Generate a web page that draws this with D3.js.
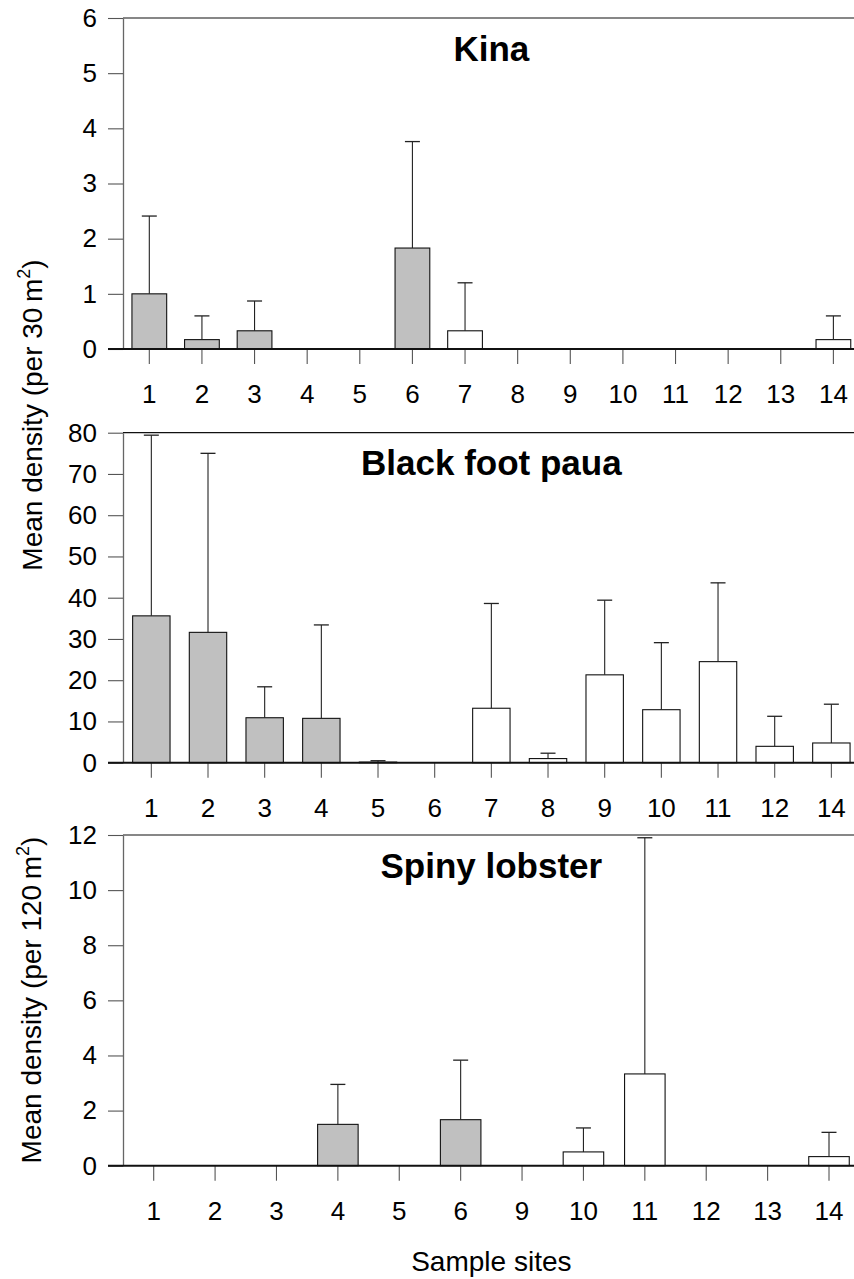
<!DOCTYPE html>
<meta charset="utf-8">
<head>
  <title>Mean density by sample site</title>
</head>

<style>
body {
  margin: 0;
  background: #fff;
}
svg text {
  font-family: "Liberation Sans", Arial, Helvetica, sans-serif;
  fill: #000;
}
</style>

<body>
  <div id="content">
    <svg width="854" height="1279"></svg>
  </div>

  <script src="https://cdnjs.cloudflare.com/ajax/libs/d3/7.8.5/d3.min.js"></script>

  <script>
// data (mean, and standard error above it)
var kinaSites = [1, 2, 3, 4, 5, 6, 7, 8, 9, 10, 11, 12, 13, 14];
var kinaMean  = [1.0, 0.17, 0.33, 0, 0, 1.83, 0.33, 0, 0, 0, 0, 0, 0, 0.17];
var kinaSE    = [1.41, 0.43, 0.54, 0, 0, 1.93, 0.87, 0, 0, 0, 0, 0, 0, 0.43];

var pauaSites = [1, 2, 3, 4, 5, 6, 7, 8, 9, 10, 11, 12, 14];
var pauaMean  = [35.6, 31.6, 10.9, 10.75, 0.15, 0, 13.2, 1.0, 21.3, 12.85, 24.5, 3.97, 4.78];
var pauaSE    = [43.8, 43.4, 7.5, 22.65, 0.33, 0, 25.4, 1.3, 18.1, 16.25, 19.1, 7.28, 9.4];

var lobsterSites = [1, 2, 3, 4, 5, 6, 9, 10, 11, 12, 13, 14];
var lobsterMean  = [0, 0, 0, 1.5, 0, 1.67, 0, 0.5, 3.33, 0, 0, 0.33];
var lobsterSE    = [0, 0, 0, 1.45, 0, 2.16, 0, 0.87, 8.57, 0, 0, 0.88];

// sites drawn with grey bars
var shadedSites = [1, 2, 3, 4, 5, 6];

var svg = d3.select('#content svg');

var left = 123, right = 859.7;

var panels = [
  {title: 'Kina', sites: kinaSites, mean: kinaMean, se: kinaSE, top: 18, bottom: 349, max: 6, step: 1},
  {title: 'Black foot paua', sites: pauaSites, mean: pauaMean, se: pauaSE, top: 432.7, bottom: 762.7, max: 80, step: 10},
  {title: 'Spiny lobster', sites: lobsterSites, mean: lobsterMean, se: lobsterSE, top: 835, bottom: 1165.7, max: 12, step: 2}
];

panels.forEach(function(p) {
  var x = d3.scaleBand()
    .domain(p.sites)
    .range([left, right])
    .paddingInner(0.34)
    .paddingOuter(0.17);

  var y = d3.scaleLinear()
    .domain([0, p.max])
    .range([p.bottom, p.top]);

  var g = svg.append('g');

  // top frame line
  g.append('line')
    .attr('x1', left).attr('x2', 854)
    .attr('y1', y(p.max)).attr('y2', y(p.max))
    .attr('stroke', '#111')
    .attr('stroke-width', 1.2);

  var rows = p.sites.map(function(s, i) {
    return {site: s, mean: p.mean[i], se: p.se[i]};
  });

  // bars
  g.selectAll('rect')
    .data(rows.filter(function(d) { return d.mean > 0; }))
    .enter().append('rect')
    .attr('x', function(d) { return x(d.site); })
    .attr('width', x.bandwidth())
    .attr('y', function(d) { return y(d.mean); })
    .attr('height', function(d) { return y(0) - y(d.mean); })
    .attr('fill', function(d) { return shadedSites.indexOf(d.site) >= 0 ? '#c0c0c0' : '#fff'; })
    .attr('stroke', '#111')
    .attr('stroke-width', 1.1);

  // error bars (upper only)
  var eb = g.selectAll('.err')
    .data(rows.filter(function(d) { return d.se > 0; }))
    .enter().append('g')
    .attr('class', 'err');

  eb.append('line')
    .attr('x1', function(d) { return x(d.site) + x.bandwidth() / 2; })
    .attr('x2', function(d) { return x(d.site) + x.bandwidth() / 2; })
    .attr('y1', function(d) { return y(d.mean); })
    .attr('y2', function(d) { return y(d.mean + d.se); })
    .attr('stroke', '#222')
    .attr('stroke-width', 1.1);

  eb.append('line')
    .attr('x1', function(d) { return x(d.site) + x.bandwidth() / 2 - 7.5; })
    .attr('x2', function(d) { return x(d.site) + x.bandwidth() / 2 + 7.5; })
    .attr('y1', function(d) { return y(d.mean + d.se); })
    .attr('y2', function(d) { return y(d.mean + d.se); })
    .attr('stroke', '#222')
    .attr('stroke-width', 1.3);

  // y axis
  var yAxis = g.append('g')
    .attr('transform', 'translate(' + left + ',0)')
    .call(d3.axisLeft(y)
      .tickValues(d3.range(0, p.max + p.step / 2, p.step))
      .tickFormat(d3.format('d'))
      .tickSize(15)
      .tickPadding(11)
      .tickSizeOuter(0));
  yAxis.select('.domain').attr('stroke', '#666').attr('stroke-width', 1.3);
  yAxis.selectAll('.tick line').attr('stroke', '#555').attr('stroke-width', 1.1);
  yAxis.selectAll('.tick text')
    .attr('font-size', 26)
    .attr('font-family', '"Liberation Sans", Arial, sans-serif')
    .attr('fill', '#000');

  // x axis
  var xAxis = g.append('g')
    .attr('transform', 'translate(0,' + y(0) + ')')
    .call(d3.axisBottom(x)
      .tickSize(15)
      .tickPadding(21)
      .tickSizeOuter(0));
  xAxis.select('.domain').remove();
  xAxis.selectAll('.tick line').attr('stroke', '#555').attr('stroke-width', 1.1);
  xAxis.selectAll('.tick text')
    .attr('font-size', 26)
    .attr('font-family', '"Liberation Sans", Arial, sans-serif')
    .attr('fill', '#000');

  // baseline
  g.append('line')
    .attr('x1', left - 15).attr('x2', 854)
    .attr('y1', y(0)).attr('y2', y(0))
    .attr('stroke', '#111')
    .attr('stroke-width', 2);

  // panel title
  g.append('text')
    .attr('x', (left + right) / 2)
    .attr('y', p.top + 42.5)
    .attr('text-anchor', 'middle')
    .attr('font-size', 35)
    .attr('font-weight', 'bold')
    .text(p.title);
});

// y axis titles
function yTitle(cx, cy, unit) {
  var t = svg.append('text')
    .attr('transform', 'translate(' + cx + ',' + cy + ') rotate(-90)')
    .attr('text-anchor', 'middle')
    .attr('font-size', 28);
  t.append('tspan').text('Mean density (per ' + unit + '\u2009m');
  t.append('tspan').attr('font-size', 18).attr('dy', -12).text('2');
  t.append('tspan').attr('dy', 12).text(')');
}
yTitle(42, 415, '30');
yTitle(41, 1000, '120');

// x axis title
svg.append('text')
  .attr('x', (left + right) / 2)
  .attr('y', 1271)
  .attr('text-anchor', 'middle')
  .attr('font-size', 28)
  .text('Sample sites');
  </script>
</body>
</html>
